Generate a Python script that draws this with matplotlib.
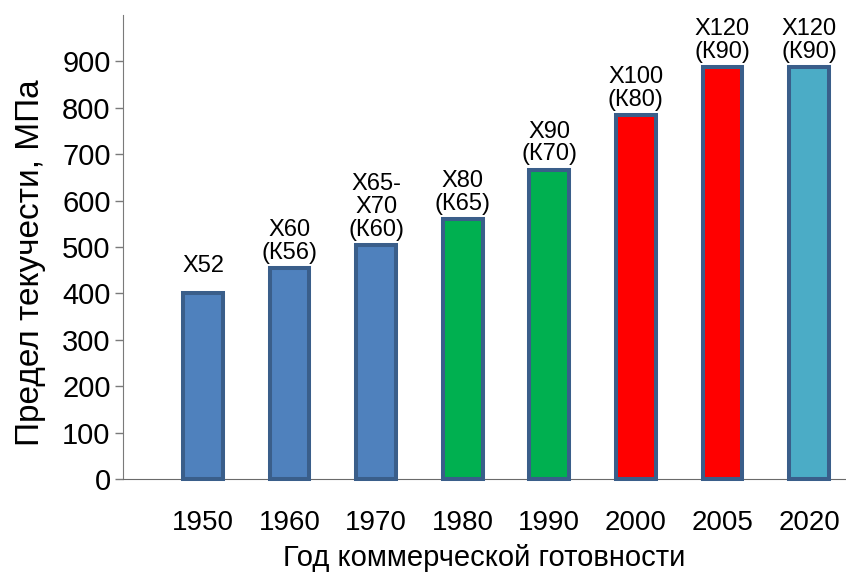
import matplotlib.pyplot as plt

# data
years = ['1950', '1960', '1970', '1980', '1990', '2000', '2005', '2020']
strength = [400, 455, 505, 560, 667, 785, 887, 887]
grades = ['X52', 'X60\n(К56)', 'X65-\nX70\n(К60)', 'X80\n(К65)', 'X90\n(К70)',
          'X100\n(К80)', 'X120\n(К90)', 'X120\n(К90)']
bar_colors = ['#4F81BD', '#4F81BD', '#4F81BD', '#00B050', '#00B050',
              '#FF0000', '#FF0000', '#4BACC6']

font = ['Liberation Sans', 'DejaVu Sans']

fig = plt.figure(figsize=(8.46, 5.8), dpi=100)
ax = fig.add_axes([0.1454, 0.1741, 0.8546, 0.8])

x = list(range(len(years)))
ax.bar(x, strength, width=0.46, color=bar_colors, edgecolor='#3A5E8A',
       linewidth=2.9, clip_on=False, zorder=3)

# grade labels above bars
for i, val in enumerate(strength):
    off = 12 if '\n' not in grades[i] else 3
    ax.annotate(grades[i], (i, val), xytext=(0, off), textcoords='offset points',
                ha='center', va='bottom', fontsize=17, family=font,
                linespacing=1.05)

ax.set_xlim(-0.924, 7.427)
ax.set_ylim(0, 1000)
ax.set_yticks(range(0, 1000, 100))
ax.set_xticks(x)
ax.set_xticklabels(years, family=font, fontsize=20)
for lab in ax.get_yticklabels():
    lab.set_family(font)
    lab.set_fontsize(21)

ax.tick_params(axis='x', length=0, pad=22)
ax.tick_params(axis='y', length=6, width=1, color='#7a7a7a', direction='out', pad=3)

for side in ['top', 'right']:
    ax.spines[side].set_visible(False)
ax.spines['left'].set_color('#7a7a7a')
ax.spines['bottom'].set_color('#6a6a6a')

ax.set_ylabel('Предел текучести, МПа', family=font, fontsize=24)
ax.yaxis.set_label_coords(-0.107, 0.466)
ax.set_xlabel('Год коммерческой готовности', family=font, fontsize=21, labelpad=6)

fig.savefig('out.png', dpi=100)
